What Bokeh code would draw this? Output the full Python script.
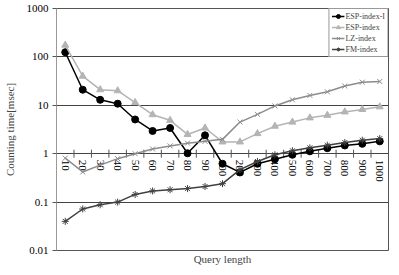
import math
from bokeh.plotting import figure
from bokeh.models import Range1d, FixedTicker, Legend, LegendItem
from bokeh.core.properties import value
from bokeh.embed import file_html
from bokeh.resources import INLINE

categories = ["10", "20", "30", "40", "50", "60", "70", "80", "90", "100",
              "200", "300", "400", "500", "600", "700", "800", "900", "1000"]
esp_index_i = [125, 21, 13, 10.8, 5.1, 2.95, 3.4, 1.02, 2.4, 0.62,
               0.41, 0.62, 0.77, 0.95, 1.12, 1.3, 1.48, 1.6, 1.8]
esp_index = [175, 40, 21, 20, 11.4, 6.4, 4.9, 2.5, 3.4, 1.75,
             1.75, 2.6, 3.7, 4.5, 5.5, 6.2, 7.3, 8.2, 9.3]
lz_index = [0.81, 0.42, 0.58, 0.79, 1.0, 1.25, 1.45, 1.65, 1.8, 1.98,
            4.5, 6.5, 9.7, 13.0, 16.0, 19.0, 25.0, 30.0, 31.0]
fm_index = [0.04, 0.072, 0.088, 0.1, 0.144, 0.17, 0.18, 0.19, 0.21, 0.24,
            0.47, 0.69, 0.95, 1.15, 1.32, 1.5, 1.7, 1.9, 2.05]
y_ticks = [0.01, 0.1, 1, 10, 100, 1000]
y_tick_labels = ["0.01", "0.1", "1", "10", "100", "1000"]

FONT = "Liberation Serif"
xs = list(range(len(categories)))

p = figure(frame_width=332, frame_height=242, y_axis_type="log",
           x_range=Range1d(-0.5, len(categories) - 0.5),
           y_range=Range1d(0.01, 1000),
           output_backend="svg", toolbar_location=None,
           min_border_left=53, min_border_top=8, min_border_right=4, min_border_bottom=16)
p.outline_line_color = "#555555"
p.outline_line_width = 1
p.background_fill_color = "white"

# y axis
p.yaxis.ticker = FixedTicker(ticks=y_ticks)
p.yaxis.major_label_overrides = {t: l for t, l in zip(y_ticks, y_tick_labels)}
p.yaxis.minor_tick_line_color = None
p.yaxis.major_tick_in = 0
p.yaxis.major_tick_out = 4
p.yaxis.major_tick_line_color = "#555555"
p.yaxis.axis_line_color = "#999999"
p.yaxis.major_label_text_font = FONT
p.yaxis.major_label_text_font_size = "11px"
p.yaxis.major_label_text_color = "black"
p.yaxis.major_label_standoff = 4
p.yaxis.axis_label = "Counting time[msec]"
p.yaxis.axis_label_text_font = FONT
p.yaxis.axis_label_text_font_size = "11px"
p.yaxis.axis_label_text_font_style = "normal"
p.yaxis.axis_label_standoff = 8

# x axis (only label)
p.xaxis.ticker = FixedTicker(ticks=[])
p.xaxis.axis_line_color = None
p.xaxis.major_tick_line_color = None
p.xaxis.minor_tick_line_color = None
p.xaxis.axis_label = "Query length"
p.xaxis.axis_label_text_font = FONT
p.xaxis.axis_label_text_font_size = "11px"
p.xaxis.axis_label_text_font_style = "normal"
p.xaxis.axis_label_standoff = 2

p.xgrid.grid_line_color = None
p.ygrid.ticker = FixedTicker(ticks=y_ticks)
p.ygrid.grid_line_color = "#444444"
p.ygrid.grid_line_width = 1

# category axis crossing at y = 1
bounds = [i + 0.5 for i in xs[:-1]]
p.scatter(x=bounds, y=[1] * len(bounds), marker="dash", angle=math.pi / 2,
          size=8, line_color="#555555", line_width=1)
p.text(x=xs, y=[1] * len(xs), text=categories, angle=-math.pi / 2,
       text_align="left", text_baseline="middle", y_offset=6,
       text_font=value(FONT), text_font_size="11px", text_color="black")

c1, c2, c3, c4 = "#000000", "#b4b4b4", "#8c8c8c", "#404040"
r1l = p.line(xs, esp_index_i, line_color=c1, line_width=1.5)
r1m = p.scatter(xs, esp_index_i, marker="circle", size=7, fill_color=c1, line_color=c1)
r2l = p.line(xs, esp_index, line_color=c2, line_width=1.5)
r2m = p.scatter(xs, esp_index, marker="triangle", size=7, fill_color=c2, line_color=c2)
r3l = p.line(xs, lz_index, line_color=c3, line_width=1.5)
r3m = p.scatter(xs, lz_index, marker="x", size=7, line_color=c3, line_width=1)
r4l = p.line(xs, fm_index, line_color=c4, line_width=1.5)
r4m = p.scatter(xs, fm_index, marker="asterisk", size=7, line_color=c4, line_width=1)

legend = Legend(items=[
    LegendItem(label="ESP-index-I", renderers=[r1l, r1m]),
    LegendItem(label="ESP-index", renderers=[r2l, r2m]),
    LegendItem(label="LZ-index", renderers=[r3l, r3m]),
    LegendItem(label="FM-index", renderers=[r4l, r4m]),
], location="top_right")
legend.margin = 0
legend.padding = 2
legend.spacing = 1
legend.glyph_width = 13
legend.glyph_height = 10
legend.label_height = 10
legend.label_standoff = 1
legend.label_text_font = FONT
legend.label_text_font_size = "8px"
legend.border_line_color = "#333333"
legend.border_line_width = 1
legend.background_fill_alpha = 1
p.add_layout(legend)

open("out.html", "w").write(file_html(p, INLINE))
